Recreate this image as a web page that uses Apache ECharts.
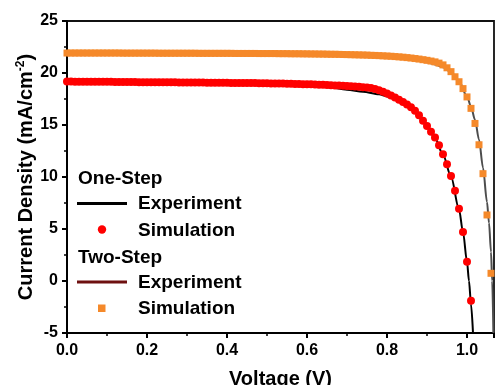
<!DOCTYPE html>
<html>
<head>
<meta charset="utf-8">
<script src="https://cdn.jsdelivr.net/npm/echarts@6/dist/echarts.min.js"></script>
<style>
html,body{margin:0;padding:0;background:#fff;}
#chart{width:495px;height:385px;}
</style>
</head>
<body>
<div id="chart"></div>
<script>
// ---- Data ----
// One-Step simulation (red circles)
var oneSimV = [0.00,0.01,0.02,0.03,0.04,0.05,0.06,0.07,0.08,0.09,
  0.10,0.11,0.12,0.13,0.14,0.15,0.16,0.17,0.18,0.19,
  0.20,0.21,0.22,0.23,0.24,0.25,0.26,0.27,0.28,0.29,
  0.30,0.31,0.32,0.33,0.34,0.35,0.36,0.37,0.38,0.39,
  0.40,0.41,0.42,0.43,0.44,0.45,0.46,0.47,0.48,0.49,
  0.50,0.51,0.52,0.53,0.54,0.55,0.56,0.57,0.58,0.59,
  0.60,0.61,0.62,0.63,0.64,0.65,0.66,0.67,0.68,0.69,
  0.70,0.71,0.72,0.73,0.74,0.75,0.76,0.77,0.78,0.79,
  0.80,0.81,0.82,0.83,0.84,0.85,0.86,0.87,0.88,0.89,
  0.90,0.91,0.92,0.93,0.94,0.95,0.96,0.97,0.98,0.99,
  1.00,1.01];
var oneSimJ = [19.18,19.18,19.17,19.17,19.17,19.16,19.16,19.16,19.15,19.15,
  19.15,19.15,19.14,19.14,19.14,19.13,19.13,19.13,19.12,19.12,
  19.12,19.12,19.11,19.11,19.11,19.10,19.10,19.10,19.09,19.09,
  19.09,19.09,19.08,19.08,19.08,19.07,19.07,19.07,19.06,19.06,
  19.06,19.05,19.05,19.05,19.04,19.04,19.03,19.03,19.02,19.02,
  19.01,19.00,19.00,18.99,18.98,18.97,18.96,18.95,18.94,18.93,
  18.92,18.91,18.90,18.88,18.87,18.85,18.83,18.81,18.79,18.77,
  18.75,18.72,18.70,18.67,18.63,18.60,18.56,18.46,18.34,18.20,
  18.02,17.84,17.64,17.43,17.21,16.97,16.70,16.36,15.94,15.42,
  14.90,14.36,13.80,13.06,12.18,11.22,10.10,8.68,6.94,4.70,
  1.86,-1.90];

// One-Step experiment (black line)
var oneExpV = [0,0.05,0.1,0.2,0.3,0.4,0.5,0.55,0.6,0.65,0.7,0.74,0.78,0.8,0.82,0.84,0.86,0.88,0.9,0.92,0.94,0.96,0.98,0.99,1.0,1.005,1.01,1.015];
var oneExpJ = [19.2,19.18,19.15,19.1,19.06,19.02,18.96,18.91,18.85,18.65,18.4,18.2,17.95,17.75,17.5,17.12,16.6,15.9,14.95,13.75,12.15,10.05,6.9,4.7,1.85,0.0,-2.2,-5.0];

// Two-Step simulation (orange squares)
var twoSimV = [0.00,0.01,0.02,0.03,0.04,0.05,0.06,0.07,0.08,0.09,
  0.10,0.11,0.12,0.13,0.14,0.15,0.16,0.17,0.18,0.19,
  0.20,0.21,0.22,0.23,0.24,0.25,0.26,0.27,0.28,0.29,
  0.30,0.31,0.32,0.33,0.34,0.35,0.36,0.37,0.38,0.39,
  0.40,0.41,0.42,0.43,0.44,0.45,0.46,0.47,0.48,0.49,
  0.50,0.51,0.52,0.53,0.54,0.55,0.56,0.57,0.58,0.59,
  0.60,0.61,0.62,0.63,0.64,0.65,0.66,0.67,0.68,0.69,
  0.70,0.71,0.72,0.73,0.74,0.75,0.76,0.77,0.78,0.79,
  0.80,0.81,0.82,0.83,0.84,0.85,0.86,0.87,0.88,0.89,
  0.90,0.91,0.92,0.93,0.94,0.95,0.96,0.97,0.98,0.99,
  1.00,1.01,1.02,1.03,1.04,1.05,1.06];
var twoSimJ = [21.92,21.92,21.92,21.92,21.92,21.92,21.92,21.92,21.92,21.92,
  21.92,21.92,21.92,21.92,21.91,21.91,21.91,21.91,21.91,21.91,
  21.91,21.91,21.91,21.90,21.90,21.90,21.90,21.90,21.90,21.90,
  21.90,21.90,21.90,21.89,21.89,21.89,21.89,21.89,21.89,21.89,
  21.89,21.89,21.88,21.88,21.88,21.88,21.88,21.88,21.87,21.87,
  21.87,21.87,21.87,21.86,21.86,21.86,21.85,21.85,21.85,21.84,
  21.84,21.83,21.83,21.82,21.82,21.81,21.80,21.80,21.79,21.78,
  21.77,21.76,21.75,21.74,21.73,21.72,21.70,21.69,21.67,21.65,
  21.63,21.61,21.58,21.55,21.52,21.48,21.44,21.39,21.34,21.28,
  21.22,21.15,21.07,20.95,20.78,20.50,20.13,19.64,19.16,18.50,
  17.70,16.60,15.15,13.10,10.32,6.35,0.74];

// Two-Step experiment (dark line)
var twoExpV = [0,0.1,0.2,0.3,0.4,0.5,0.6,0.65,0.7,0.75,0.8,0.84,0.88,0.9,0.92,0.94,0.96,0.98,1.0,1.01,1.02,1.03,1.04,1.05,1.055,1.06,1.063,1.066];
var twoExpJ = [21.92,21.91,21.9,21.89,21.88,21.87,21.84,21.81,21.77,21.7,21.58,21.43,21.2,21.03,20.82,20.55,20.1,19.2,17.75,16.75,15.5,13.6,10.9,7.6,5.6,2.8,0.0,-5.0];

// Axis ticks
var xTicks = {min: 0, max: 1.0675, interval: 0.2};
var yTicks = {min: -5, max: 25, interval: 5};

function pairs(xs, ys) { return xs.map(function (x, i) { return [x, ys[i]]; }); }

var FONT = '"Liberation Sans", Arial, sans-serif';
var chart = echarts.init(document.getElementById('chart'), null, {renderer: 'canvas'});

var legendFont = 'bold 19px "Liberation Sans", Arial, sans-serif';
var graphics = [
  {type: 'text', x: 78, y: 178.5, style: {text: 'One-Step', font: legendFont, fill: '#000', verticalAlign: 'middle'}},
  {type: 'line', shape: {x1: 77, y1: 203.5, x2: 127, y2: 203.5}, style: {stroke: '#000', lineWidth: 3}},
  {type: 'text', x: 138, y: 204, style: {text: 'Experiment', font: legendFont, fill: '#000', verticalAlign: 'middle'}},
  {type: 'circle', shape: {cx: 102, cy: 229.5, r: 4.2}, style: {fill: '#ff0000'}},
  {type: 'text', x: 138, y: 230.5, style: {text: 'Simulation', font: legendFont, fill: '#000', verticalAlign: 'middle'}},
  {type: 'text', x: 78, y: 257.5, style: {text: 'Two-Step', font: legendFont, fill: '#000', verticalAlign: 'middle'}},
  {type: 'line', shape: {x1: 77, y1: 282, x2: 127, y2: 282}, style: {stroke: '#6e1010', lineWidth: 3}},
  {type: 'text', x: 138, y: 283, style: {text: 'Experiment', font: legendFont, fill: '#000', verticalAlign: 'middle'}},
  {type: 'rect', shape: {x: 98, y: 304.5, width: 7.5, height: 7.5}, style: {fill: '#f5892a'}},
  {type: 'text', x: 138, y: 308.5, style: {text: 'Simulation', font: legendFont, fill: '#000', verticalAlign: 'middle'}}
];

var option = {
  animation: false,
  backgroundColor: '#fff',
  grid: {left: 67, right: 1, top: 21, bottom: 52, show: true, borderColor: '#111', borderWidth: 1.8,
    containLabel: false, outerBoundsMode: 'none'},
  xAxis: {
    type: 'value', min: xTicks.min, max: xTicks.max, interval: xTicks.interval,
    name: 'Voltage (V)', nameLocation: 'middle', nameGap: 36, nameMoveOverlap: false,
    nameTextStyle: {fontSize: 20, fontWeight: 'bold', color: '#000', fontFamily: FONT},
    axisLine: {show: true, onZero: false, lineStyle: {color: '#000', width: 2}},
    axisTick: {show: true, length: 5, lineStyle: {color: '#000', width: 2}},
    minorTick: {show: true, splitNumber: 2, length: 3, lineStyle: {color: '#000', width: 1.5}},
    splitLine: {show: false}, minorSplitLine: {show: false},
    axisLabel: {fontSize: 16, fontWeight: 'bold', color: '#000', fontFamily: FONT, margin: 10, showMaxLabel: false,
      formatter: function (v) { return v.toFixed(1); }}
  },
  yAxis: {
    type: 'value', min: yTicks.min, max: yTicks.max, interval: yTicks.interval,
    name: '{a|Current Density (mA/cm}{s|-2}{a|)}', nameLocation: 'middle', nameGap: 30, nameMoveOverlap: false,
    nameTextStyle: {color: '#000', fontFamily: FONT, fontWeight: 'bold', fontSize: 20,
      rich: {
        a: {fontSize: 20, fontWeight: 'bold', color: '#000', fontFamily: FONT, lineHeight: 22},
        s: {fontSize: 12, fontWeight: 'bold', color: '#000', fontFamily: FONT, verticalAlign: 'top', lineHeight: 12}
      }},
    axisLine: {show: true, onZero: false, lineStyle: {color: '#000', width: 2}},
    axisTick: {show: true, length: 5, lineStyle: {color: '#000', width: 2}},
    minorTick: {show: true, splitNumber: 2, length: 3, lineStyle: {color: '#000', width: 1.5}},
    splitLine: {show: false}, minorSplitLine: {show: false},
    axisLabel: {fontSize: 16, fontWeight: 'bold', color: '#000', fontFamily: FONT, margin: 9}
  },
  series: [
    {name: 'One-Step Experiment', type: 'line', data: pairs(oneExpV, oneExpJ), showSymbol: false, smooth: 0.3, smoothMonotone: 'x',
      lineStyle: {color: '#000', width: 2}, itemStyle: {color: '#000'}, z: 2},
    {name: 'Two-Step Experiment', type: 'line', data: pairs(twoExpV, twoExpJ), showSymbol: false, smooth: 0.3, smoothMonotone: 'x',
      lineStyle: {color: '#4d4d4d', width: 2}, itemStyle: {color: '#4d4d4d'}, z: 2},
    {name: 'One-Step Simulation', type: 'scatter', data: pairs(oneSimV, oneSimJ), symbol: 'circle', symbolSize: 8,
      itemStyle: {color: '#ff0000', opacity: 1}, z: 3},
    {name: 'Two-Step Simulation', type: 'scatter', data: pairs(twoSimV, twoSimJ), symbol: 'rect', symbolSize: 7,
      itemStyle: {color: '#f5892a', opacity: 1}, z: 3}
  ],
  graphic: graphics
};
chart.setOption(option);
</script>
</body>
</html>
